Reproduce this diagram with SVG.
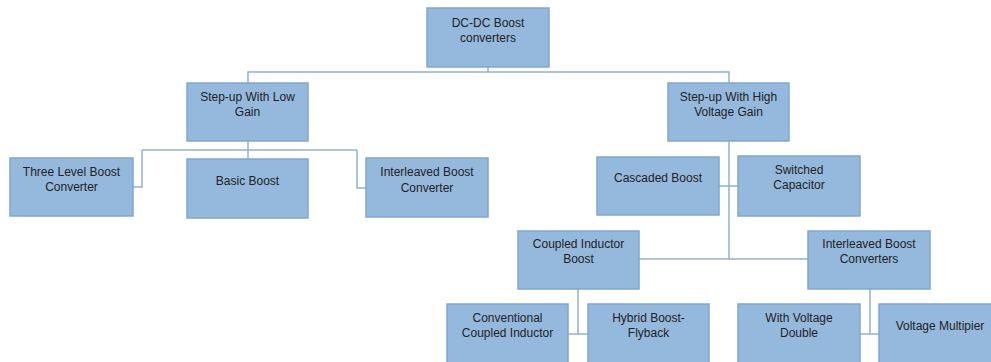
<svg xmlns="http://www.w3.org/2000/svg" width="991" height="362" viewBox="0 0 991 362">
<style>
.box{fill:#95B9DD;stroke:#7FA8CF;stroke-width:1.5}
.t{font-family:"Liberation Sans",Arial,sans-serif;font-size:12px;fill:#222;text-anchor:middle}
.c{fill:none;stroke:#93B2CB;stroke-width:1.5}
</style>
<rect width="991" height="362" fill="#fff"/>
<g id="connectors">
<path class="c" d="M488,67 V72 M248,83 V72 H729 V83"/>
<path class="c" d="M248,141 V159 M142,150 H357 M142,150 V187 H133 M357,150 V188 H366"/>
<path class="c" d="M729,141 V259 M719,186 H738 M639,259 H808"/>
<path class="c" d="M578,289 V334 M568,334 H588"/>
<path class="c" d="M870,289 V334 M860,334 H879"/>
</g>
<g id="root"><rect class="box" x="427" y="8" width="122" height="59"/><text class="t" x="488" y="27">DC-DC Boost</text><text class="t" x="488" y="42">converters</text></g>
<g id="low"><rect class="box" x="187" y="83" width="121" height="58"/><text class="t" x="247.5" y="101">Step-up With Low</text><text class="t" x="247.5" y="116">Gain</text></g>
<g id="high"><rect class="box" x="668" y="83" width="121" height="58"/><text class="t" x="728.5" y="101">Step-up With High</text><text class="t" x="728.5" y="116">Voltage Gain</text></g>
<g id="three"><rect class="box" x="10" y="158" width="123" height="58"/><text class="t" x="71.5" y="176">Three Level Boost</text><text class="t" x="71.5" y="191">Converter</text></g>
<g id="basic"><rect class="box" x="187" y="159" width="121" height="59"/><text class="t" x="247.5" y="185">Basic Boost</text></g>
<g id="interleaved"><rect class="box" x="366" y="158" width="122" height="59"/><text class="t" x="427" y="176">Interleaved Boost</text><text class="t" x="427" y="192">Converter</text></g>
<g id="cascaded"><rect class="box" x="597" y="157" width="122" height="58"/><text class="t" x="658" y="182">Cascaded Boost</text></g>
<g id="switched"><rect class="box" x="738" y="156" width="122" height="60"/><text class="t" x="799" y="174">Switched</text><text class="t" x="799" y="189">Capacitor</text></g>
<g id="coupled"><rect class="box" x="518" y="231" width="121" height="58"/><text class="t" x="578.5" y="248">Coupled Inductor</text><text class="t" x="578.5" y="263">Boost</text></g>
<g id="interleaved2"><rect class="box" x="808" y="231" width="122" height="58"/><text class="t" x="869" y="248">Interleaved Boost</text><text class="t" x="869" y="263">Converters</text></g>
<g id="conventional"><rect class="box" x="447" y="304" width="121" height="70"/><text class="t" x="507.5" y="322">Conventional</text><text class="t" x="507.5" y="337">Coupled Inductor</text></g>
<g id="hybrid"><rect class="box" x="588" y="304" width="121" height="70"/><text class="t" x="648.5" y="322">Hybrid Boost-</text><text class="t" x="648.5" y="337">Flyback</text></g>
<g id="withvd"><rect class="box" x="738" y="304" width="122" height="70"/><text class="t" x="799" y="322">With Voltage</text><text class="t" x="799" y="337">Double</text></g>
<g id="multipier"><rect class="box" x="879" y="304" width="122" height="70"/><text class="t" x="940" y="330">Voltage Multipier</text></g>
</svg>
